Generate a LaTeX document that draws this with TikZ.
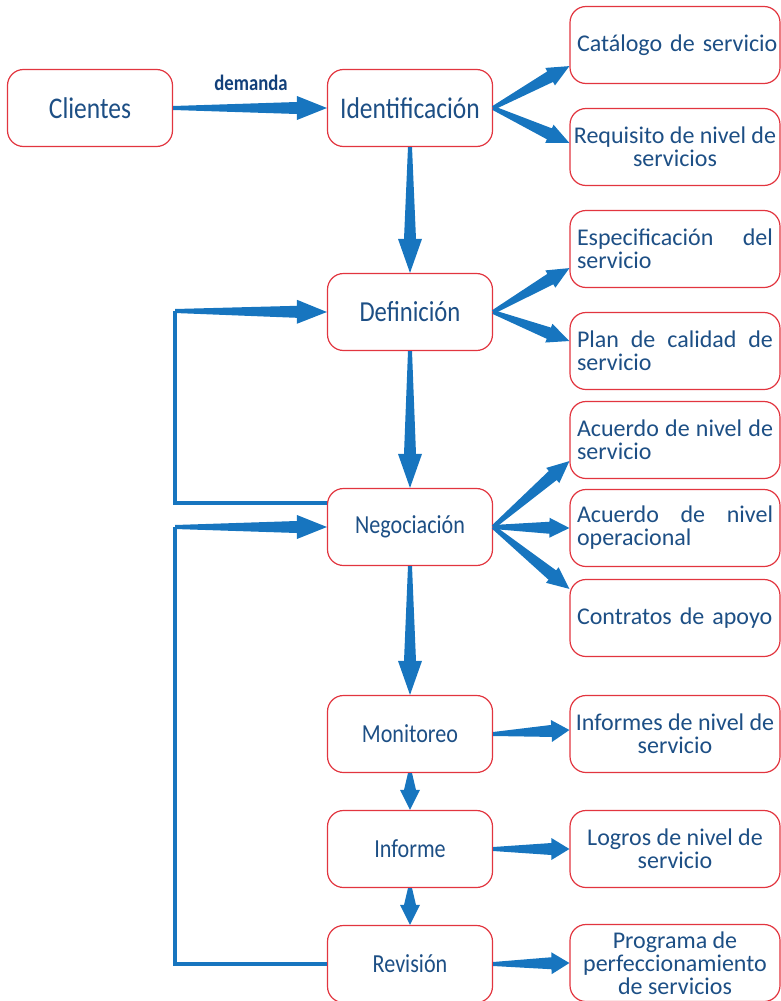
\documentclass[tikz,border=0pt]{standalone}
\usepackage{fontspec}
\setmainfont{Carlito}
\newfontfamily\narrowfont{Carlito}[FakeStretch=0.85]
\usetikzlibrary{calc}

\definecolor{arrowblue}{HTML}{1775BF}
\definecolor{textblue}{HTML}{1D4F85}
\definecolor{boxred}{HTML}{E2353F}
\definecolor{navy}{HTML}{12407A}

% tapered block arrow from #1 to #2; #3 head length, #4 half head width
\newcommand\flowarrow[4]{%
  \coordinate (fa-h) at ($(#2)!#3!(#1)$);
  \coordinate (fa-m) at ($(#1)!0.5!(fa-h)$);
  \fill[arrowblue]
    ($(#1)!2pt!90:(#2)$) -- ($(fa-m)!4pt!90:(#2)$) -- ($(fa-h)!6pt!90:(#2)$)
    -- ($(fa-h)!#4!90:(#2)$) -- (#2) -- ($(fa-h)!#4!-90:(#2)$)
    -- ($(fa-h)!6pt!-90:(#2)$) -- ($(fa-m)!4pt!-90:(#2)$) -- ($(#1)!2pt!-90:(#2)$) -- cycle;
}

\tikzset{
  box/.style={draw=boxred, line width=1.2pt, rounded corners=16pt, fill=white,
    text=textblue, minimum height=77pt, inner sep=0pt},
  mainbox/.style={box, minimum width=165pt},
  sidebox/.style={box, minimum width=210pt, font=\fontsize{24}{23}\selectfont},
  sideleft/.style={sidebox, text width=196pt, align=left},
  sidecenter/.style={sidebox, align=center},
  feedback/.style={draw=arrowblue, line width=3.6pt},
}

\begin{document}
\begin{tikzpicture}[x=1pt, y=-1pt]
\useasboundingbox (0,0) rectangle (781,1001);

% process steps
\node[mainbox, font=\narrowfont\fontsize{30}{30}\selectfont] (cli) at (90,108) {Clientes};
\node[mainbox, font=\narrowfont\fontsize{30}{30}\selectfont] (ide) at (410,108) {Identificación};
\node[mainbox, font=\narrowfont\fontsize{29}{29}\selectfont] (def) at (410,312) {Definición};
\node[mainbox, font=\narrowfont\fontsize{26}{26}\selectfont] (neg) at (410,527) {Negociación};
\node[mainbox, font=\narrowfont\fontsize{26}{26}\selectfont] (mon) at (410,734) {Monitoreo};
\node[mainbox, font=\narrowfont\fontsize{26}{26}\selectfont] (inf) at (410,849) {Informe};
\node[mainbox, font=\narrowfont\fontsize{26}{26}\selectfont] (rev) at (410,964) {Revisión};

% deliverables
\node[sideleft] (cat) at (675,45) {\mbox{Catálogo de servicio}};
\node[sidecenter] (req) at (675,147) {Requisito de nivel de\\servicios};
\node[sideleft] (esp) at (675,249) {Especificación\hfill del\\servicio};
\node[sideleft] (plan) at (675,351) {Plan\hfill de\hfill calidad\hfill de\\servicio};
\node[sideleft] (ans) at (675,440) {Acuerdo\hfill de\hfill nivel\hfill de\\servicio};
\node[sideleft] (ano) at (675,528) {Acuerdo\hfill de\hfill nivel\\operacional};
\node[sideleft] (con) at (675,618) {Contratos de apoyo};
\node[sidecenter] (info) at (675,734) {Informes de nivel de\\servicio};
\node[sidecenter] (logr) at (675,849) {Logros de nivel de\\servicio};
\node[sidecenter] (prog) at (675,963) {Programa de\\perfeccionamiento\\de servicios};

% demand
\flowarrow{cli.east}{ide.west}{30pt}{12pt}
\node[font=\narrowfont\fontsize{22}{22}\selectfont\bfseries, text=navy] (dem) at (251,83) {demanda};

% main sequence
\flowarrow{ide.south}{def.north}{34pt}{12pt}
\flowarrow{def.south}{neg.north}{34pt}{12pt}
\flowarrow{neg.south}{mon.north}{34pt}{12pt}
\flowarrow{mon.south}{inf.north}{20pt}{10pt}
\flowarrow{inf.south}{rev.north}{20pt}{10pt}

% fan-out to deliverables
\flowarrow{ide.east}{$(cat.south west)+(0,-18)$}{22pt}{10pt}
\flowarrow{ide.east}{$(req.west)+(0,-4)$}{22pt}{10pt}
\flowarrow{def.east}{$(esp.south west)+(0,-20)$}{22pt}{10pt}
\flowarrow{def.east}{$(plan.west)+(0,-10)$}{22pt}{10pt}
\flowarrow{neg.east}{$(ans.south west)+(0,-18)$}{22pt}{10pt}
\flowarrow{neg.east}{ano.west}{20pt}{10pt}
\flowarrow{neg.east}{$(con.north west)+(0,10)$}{22pt}{10pt}
\flowarrow{mon.east}{$(info.west)+(0,-4)$}{18pt}{11pt}
\flowarrow{inf.east}{logr.west}{18pt}{11pt}
\flowarrow{rev.east}{prog.west}{18pt}{11pt}

% feedback loops
\coordinate (fb1) at (175,503);
\coordinate (fb1t) at (175,311);
\draw[feedback] ($(neg.west)+(0,-24)$) -- (fb1) -- (fb1t);
\flowarrow{fb1t}{def.west}{30pt}{12pt}
\coordinate (fb2) at (175,964);
\coordinate (fb2t) at (175,527);
\draw[feedback] (rev.west) -- (fb2) -- (fb2t);
\flowarrow{fb2t}{neg.west}{30pt}{12pt}
\end{tikzpicture}
\end{document}
